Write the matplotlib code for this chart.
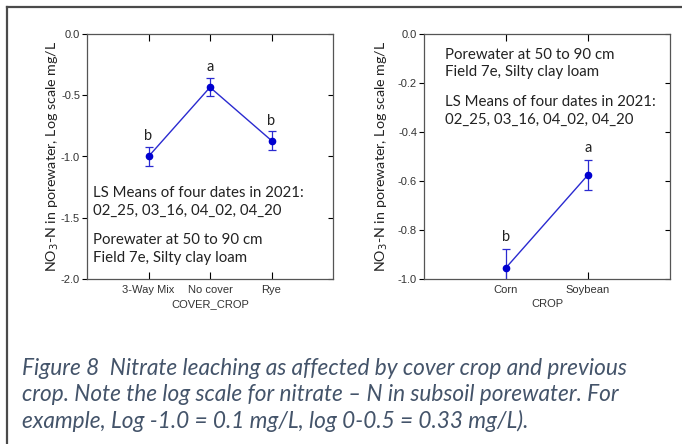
import matplotlib.pyplot as plt
import matplotlib.lines as mlines

# left panel: cover crop
cover = ['3-Way Mix', 'No cover', 'Rye']
cover_mean = [-1.0, -0.435, -0.87]
cover_err = [0.08, 0.075, 0.075]
cover_letters = ['b', 'a', 'b']

# right panel: previous crop
crop = ['Corn', 'Soybean']
crop_mean = [-0.954, -0.575]
crop_err = [0.075, 0.06]
crop_letters = ['b', 'a']

ylabel = 'NO$_3$-N in porewater, Log scale mg/L'
note_dates = 'LS Means of four dates in 2021:\n02_25, 03_16, 04_02, 04_20'
note_site = 'Porewater at 50 to 90 cm\nField 7e, Silty clay loam'
caption = ('Figure 8  Nitrate leaching as affected by cover crop and previous\n'
           'crop. Note the log scale for nitrate \u2013 N in subsoil porewater. For\n'
           'example, Log -1.0 = 0.1 mg/L, log 0-0.5 = 0.33 mg/L).')

W, H = 682, 444
fig = plt.figure(figsize=(W / 100, H / 100), dpi=100)
fig.patch.set_facecolor('white')

# outer frame lines (top and left)
fig.add_artist(mlines.Line2D([7 / W, 1], [1 - 7 / H, 1 - 7 / H], color='#4a4a4a', lw=1.6))
fig.add_artist(mlines.Line2D([7 / W, 7 / W], [0, 1 - 7 / H], color='#4a4a4a', lw=1.6))

blue = '#2a2ad0'
tick_font = 'Liberation Sans'
note_font = 'Lato'


def panel(left, cats, means, errs, letters, yticks, ylim, xlabel, letter_off, ylab_x):
    ax = fig.add_axes([left / W, 1 - 279 / H, 246 / W, 245 / H])
    x = list(range(1, len(cats) + 1))
    ax.errorbar(x, means, yerr=errs, color=blue, lw=1.0, marker='o', ms=4.5,
                mfc='#0000d0', mec='#0000d0', capsize=3, elinewidth=0.9, capthick=0.9)
    for xi, m, e, l in zip(x, means, errs, letters):
        ax.text(xi, m + e + letter_off, l, ha='center', va='bottom',
                fontsize=10.5, family=note_font, color='#222222')
    ax.set_xlim(0, len(cats) + 1)
    ax.set_ylim(*ylim)
    ax.set_xticks(x)
    ax.set_xticklabels(cats, family=tick_font, fontsize=8, color='#333333')
    ax.set_yticks(yticks)
    ax.set_yticklabels(['%.1f' % t for t in yticks], family=tick_font, fontsize=8, color='#333333')
    ax.tick_params(axis='x', direction='in', top=True, length=5, width=0.8, pad=4)
    ax.tick_params(axis='y', direction='in', right=True, length=3.5, width=0.8, pad=5)
    for t in ax.yaxis.get_major_ticks():
        t.tick1line.set_marker(0)  # left side ticks point outward
    ax.set_xlabel(xlabel, family=tick_font, fontsize=8, color='#333333', labelpad=3)
    ax.set_ylabel(ylabel, family=note_font, fontsize=10.3, color='#222222')
    ax.yaxis.set_label_coords(ylab_x, 0.5)
    for s in ax.spines.values():
        s.set_color('#555555')
        s.set_linewidth(0.9)
    return ax


ax1 = panel(87, cover, cover_mean, cover_err, cover_letters,
            [0.0, -0.5, -1.0, -1.5, -2.0], (-2.0, 0.0), 'COVER_CROP', 0.03, -0.107)
ax1.text(0.024, 0.314, note_dates, transform=ax1.transAxes, family=note_font,
         fontsize=10.8, color='#222222', va='center', linespacing=1.3)
ax1.text(0.024, 0.122, note_site, transform=ax1.transAxes, family=note_font,
         fontsize=10.8, color='#222222', va='center', linespacing=1.3)

ax2 = panel(424, crop, crop_mean, crop_err, crop_letters,
            [0.0, -0.2, -0.4, -0.6, -0.8, -1.0], (-1.0, 0.0), 'CROP', 0.02, -0.14)
ax2.text(0.085, 0.88, note_site, transform=ax2.transAxes, family=note_font,
         fontsize=10.8, color='#222222', va='center', linespacing=1.3)
ax2.text(0.085, 0.686, note_dates, transform=ax2.transAxes, family=note_font,
         fontsize=10.8, color='#222222', va='center', linespacing=1.3)

fig.text(22 / W, 1 - 395 / H, caption, family=note_font, style='italic',
         fontsize=16.3, color='#44546a', va='center', ha='left', linespacing=1.28)

fig.savefig('out.png', dpi=100)
